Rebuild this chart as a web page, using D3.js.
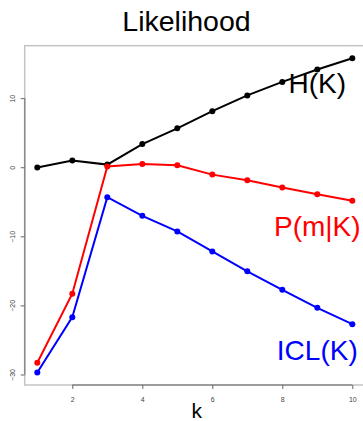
<!DOCTYPE html>
<html><head><meta charset="utf-8">
<script src="https://cdn.jsdelivr.net/npm/d3@7"></script>
<style>body{margin:0;background:#fff}svg{display:block;font-family:"Liberation Sans",Arial,Helvetica,sans-serif}</style>
</head><body>
<script>
const kValues = [1,2,3,4,5,6,7,8,9,10];
const hK   = [-0.05, 0.96, 0.38, 3.36, 5.63, 8.12, 10.4, 12.35, 14.14, 15.77];
const pmK  = [-28.3, -18.3, 0.1, 0.48, 0.29, -1.07, -1.88, -2.94, -3.9, -4.86];
const iclK = [-29.7, -21.7, -4.33, -7.03, -9.29, -12.18, -15.07, -17.75, -20.35, -22.71];
const xTicks = [2,4,6,8,10];
const yTicks = [-30,-20,-10,0,10];
const seriesNames = ["H(K)","P(m|K)","ICL(K)"];
const seriesColors = ["#000000","#ff0000","#0000ff"];
const labelAnchors = [[9,12.2],[9,-8.5],[9,-26.5]];

(function(){
const W=363,H=421;
const svg=d3.select("body").append("svg").attr("width",W).attr("height",H);
const pL=24.7,pR=364.9,pT=45.7,pB=385;
const x=d3.scaleLinear().domain([0.64,10.36]).range([pL,pR]);
const y=d3.scaleLinear().domain([-31.52,17.59]).range([pB,pT]);

// box
svg.append("rect").attr("x",pL).attr("y",pT).attr("width",pR-pL).attr("height",pB-pT)
  .attr("fill","none").attr("stroke","#c4c4c4").attr("stroke-width",1.5);

// axes
const xAxis=d3.axisBottom(x).tickValues(xTicks).tickSize(4).tickPadding(8).tickFormat(d3.format("d"));
const gx=svg.append("g").attr("transform",`translate(0,${pB})`).call(xAxis);
gx.select(".domain").attr("d",`M${x(2)},0H${x(10)}`).attr("stroke","#8a8a8a").attr("stroke-width",1.5);
gx.selectAll(".tick line").attr("stroke","#666");
gx.selectAll(".tick text").attr("font-size",7).attr("fill","#444").attr("font-family","Liberation Sans,Arial");

const yAxis=d3.axisLeft(y).tickValues(yTicks).tickSize(4).tickFormat(d3.format("d"));
const gy=svg.append("g").attr("transform",`translate(${pL},0)`).call(yAxis);
gy.select(".domain").attr("d",`M0,${y(-30)}V${y(10)}`).attr("stroke","#8a8a8a").attr("stroke-width",1.5);
gy.selectAll(".tick line").attr("stroke","#666");
gy.selectAll(".tick text").attr("font-size",7).attr("fill","#444").attr("font-family","Liberation Sans,Arial")
  .attr("transform","translate(-12.5,0) rotate(-90)").attr("x",0).attr("dy","0.35em").attr("text-anchor","middle");

// series
const all=[hK,pmK,iclK];
const line=d3.line().x((d,i)=>x(kValues[i])).y(d=>y(d));
all.forEach((vals,s)=>{
  svg.append("path").datum(vals).attr("d",line).attr("fill","none")
    .attr("stroke",seriesColors[s]).attr("stroke-width",2);
  svg.append("g").selectAll("circle").data(vals).join("circle")
    .attr("cx",(d,i)=>x(kValues[i])).attr("cy",d=>y(d)).attr("r",3)
    .attr("fill",seriesColors[s]);
  svg.append("text").attr("x",x(labelAnchors[s][0])).attr("y",y(labelAnchors[s][1]))
    .attr("text-anchor","middle").attr("dy","0.35em").attr("font-size",28)
    .attr("fill",seriesColors[s]).text(seriesNames[s]);
});

// title and x label
svg.append("text").attr("x",186.5).attr("y",31).attr("text-anchor","middle").attr("font-size",28.5).attr("fill","#000").text("Likelihood");
svg.append("text").attr("x",196.7).attr("y",418.3).attr("text-anchor","middle").attr("font-size",21).attr("fill","#000").text("k");
})();
</script>
</body></html>
